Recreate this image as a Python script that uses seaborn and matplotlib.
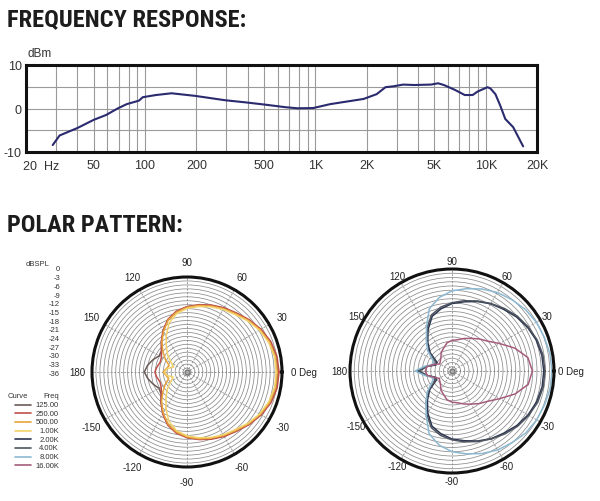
import numpy as np
import pandas as pd
import matplotlib
matplotlib.use("Agg")
import matplotlib.pyplot as plt
from matplotlib.lines import Line2D
from matplotlib.ticker import NullFormatter
from matplotlib import font_manager
import seaborn as sns

# ---------------- data ----------------
fr_freq = [28.7, 31.5, 40, 50, 59, 69, 78, 92, 97, 116, 143, 197, 295, 391, 504,
           667, 784, 970, 1220, 1530, 1920, 2290, 2580, 2870, 3280, 3800, 4780,
           5250, 5680, 6580, 7530, 8380, 8960, 10240, 10660, 11400, 12190, 13020,
           14500, 16580]
fr_db = [-8.4, -6.2, -4.5, -2.6, -1.5, 0.0, 1.0, 1.8, 2.6, 3.1, 3.5, 2.9, 1.9, 1.4, 0.9,
         0.3, 0.05, 0.1, 1.0, 1.6, 2.2, 3.3, 4.9, 5.1, 5.5, 5.4, 5.5,
         5.8, 5.4, 4.3, 3.1, 3.1, 3.9, 4.9, 4.6, 3.3, 0.6, -2.4,
         -4.3, -8.7]
fr_xtick_vals = [50, 100, 200, 500, 1000, 2000, 5000, 10000, 20000]
fr_xtick_labels = ["50", "100", "200", "500", "1K", "2K", "5K", "10K", "20K"]
fr_ytick_vals = [-10, -5, 0, 5, 10]
fr_ytick_labels = ["-10", "", "0", "", "10"]

polar_angles = list(range(0, 360, 10))
db_125 = [-1.6, -1.8, -2.5, -3.8, -5.4, -7.0, -8.1, -9.2, -10.3, -11.3, -12.8, -14.9,
          -18.0, -20.9, -23.4, -23.8, -22.3, -20.9, -19.8, -21.0, -22.4, -23.7, -23.2,
          -20.7, -17.8, -14.8, -12.7, -11.2, -10.2, -9.1, -8.0, -6.9, -5.3, -3.7, -2.4, -1.7]
db_250 = [-1.1, -1.4, -2.2, -3.6, -5.2, -6.8, -7.9, -9.0, -10.1, -11.2, -12.6, -14.8,
          -17.8, -20.9, -23.4, -24.8, -25.2, -24.5, -23.8, -24.4, -25.1, -24.7, -23.3,
          -20.7, -17.6, -14.6, -12.5, -11.1, -10.0, -8.9, -7.8, -6.7, -5.1, -3.5, -2.1, -1.3]
db_500 = [-1.8, -2.0, -2.7, -4.0, -5.6, -7.2, -8.3, -9.4, -10.4, -11.5, -13.0, -15.1,
          -18.2, -21.2, -24.1, -26.6, -28.8, -28.1, -27.0, -28.0, -28.6, -26.4, -24.0,
          -21.0, -18.0, -15.0, -12.9, -11.4, -10.3, -9.3, -8.2, -7.1, -5.5, -3.9, -2.6, -1.9]
db_1k = [-2.2, -2.3, -3.1, -4.3, -5.9, -7.6, -8.6, -9.7, -10.8, -11.9, -13.5, -16.2,
         -20.2, -23.8, -26.6, -29.2, -30.6, -28.4, -27.5, -28.3, -30.4, -29.0, -26.4,
         -23.6, -20.0, -16.0, -13.4, -11.8, -10.7, -9.6, -8.5, -7.5, -5.8, -4.2, -3.0, -2.3]
db_2k = [-3.6, -3.8, -4.3, -5.2, -6.3, -7.6, -8.6, -9.9, -11.2, -12.2, -13.7, -15.5,
         -19.1, -22.7, -25.9, -29.9, -29.9, -26.6, -23.8, -26.8, -29.7, -29.6, -25.7,
         -22.5, -18.9, -15.3, -13.5, -12.0, -11.0, -9.7, -8.4, -7.4, -6.1, -5.0, -4.2, -3.7]
db_4k = [-3.2, -3.4, -4.0, -4.9, -5.9, -7.2, -8.5, -9.7, -10.8, -11.9, -13.1, -14.9,
         -18.4, -22.0, -25.2, -29.2, -29.5, -27.0, -24.5, -27.1, -29.3, -29.0, -25.0,
         -21.8, -18.2, -14.7, -12.9, -11.7, -10.6, -9.5, -8.3, -7.0, -5.7, -4.7, -3.8, -3.3]
db_8k = [-0.7, -0.9, -1.3, -1.6, -2.2, -3.1, -4.0, -5.2, -6.5, -7.7, -9.7, -12.6,
         -18.0, -22.0, -24.8, -28.1, -29.2, -26.3, -23.0, -26.5, -29.0, -27.8, -24.6,
         -21.8, -17.8, -12.4, -9.5, -7.5, -6.3, -5.0, -3.8, -3.0, -2.0, -1.5, -1.2, -0.8]
db_16k = [-7.6, -8.8, -12.4, -16.6, -19.6, -21.2, -22.7, -23.8, -24.8, -25.2, -25.9, -27.4,
          -28.4, -29.9, -30.6, -31.0, -29.2, -27.0, -26.6, -27.1, -29.4, -30.8, -30.4,
          -29.7, -28.2, -27.2, -25.7, -25.0, -24.6, -23.6, -22.5, -21.0, -19.4, -16.5, -12.3, -8.7]

legend_freqs = ["125.00", "250.00", "500.00", "1.00K", "2.00K", "4.00K", "8.00K", "16.00K"]
legend_colors = ["#6b5b57", "#c0504a", "#e8a33c", "#f3d26a",
                 "#2b3550", "#4e5560", "#8db9d2", "#a55c7c"]
db_scale_labels = ["0", "-3", "-6", "-9", "-12", "-15", "-18", "-21", "-24",
                   "-27", "-30", "-33", "-36"]
theta_tick_degs = [0, 30, 60, 90, 120, 150, 180, -150, -120, -90, -60, -30]
theta_tick_labels = ["0 Deg", "30", "60", "90", "120", "150", "180",
                     "-150", "-120", "-90", "-60", "-30"]

# ---------------- style ----------------
sns.set_style("white")
names = {f.name for f in font_manager.fontManager.ttflist}
narrow = "Liberation Sans Narrow" if "Liberation Sans Narrow" in names else "Liberation Sans"
plt.rcParams["font.family"] = [narrow, "Liberation Sans", "DejaVu Sans"]
regular = ["Liberation Sans", "DejaVu Sans"]

# find a condensed bold face for the titles, if one is installed
cands = []
for f in font_manager.fontManager.ttflist:
    low = (f.fname + " " + f.name).lower()
    if ("condensed" in low or "narrow" in low) and f.weight in ("bold", 700, "heavy", 600, "semibold"):
        cands.append(f)
if cands:
    cands.sort(key=lambda f: (0 if "liberation" in f.fname.lower() else
                              1 if "roboto" in f.fname.lower() else 2))
    title_fp = font_manager.FontProperties(fname=cands[0].fname, size=17.6)
else:
    title_fp = font_manager.FontProperties(family=["Roboto", "Liberation Sans"],
                                           weight="bold", size=15)

W, H = 600, 502
fig = plt.figure(figsize=(W / 100, H / 100), dpi=100)


def fx(px):
    return px / W


def fy(py):
    return 1 - py / H


# titles
fig.text(fx(7), fy(26), "FREQUENCY RESPONSE:", fontproperties=title_fp,
         color="#1c1c1c", va="baseline", ha="left")
fig.text(fx(7), fy(232), "POLAR PATTERN:", fontproperties=title_fp,
         color="#1c1c1c", va="baseline", ha="left")

# ---------------- frequency response ----------------
ax = fig.add_axes([fx(26), fy(153), 511 / W, 87 / H])
ax.set_xscale("log")
df = pd.DataFrame({"freq": fr_freq, "db": fr_db})
sns.lineplot(data=df, x="freq", y="db", ax=ax, color="#2a2a6e", lw=1.5,
             estimator=None, sort=False)
ax.set_xlim(20, 20000)
ax.set_ylim(-10, 10)
minor_pos = [k * 10 ** d for d in range(1, 5) for k in range(1, 10)
             if 20 < k * 10 ** d < 20000 and k * 10 ** d not in fr_xtick_vals]
ax.set_xticks(fr_xtick_vals)
ax.set_xticklabels(fr_xtick_labels, family=regular, fontsize=9, color="#333333")
ax.set_xticks(minor_pos, minor=True)
ax.xaxis.set_minor_formatter(NullFormatter())
ax.set_yticks(fr_ytick_vals)
ax.set_yticklabels(fr_ytick_labels, family=regular, fontsize=9, color="#333333")
ax.grid(True, which="both", color="#9a9a9a", lw=0.8)
ax.tick_params(which="both", length=0)
ax.tick_params(axis="x", pad=5)
ax.tick_params(axis="y", pad=3)
ax.set_xlabel("")
ax.set_ylabel("")
for s in ax.spines.values():
    s.set_linewidth(2.2)
    s.set_color("#111111")
fig.text(fx(23), fy(167), "20  Hz", family=regular, fontsize=9, color="#333333",
         ha="left", va="center")
fig.text(fx(27), fy(54), "dBm", family=regular, fontsize=8.5, color="#333333",
         ha="left", va="center")

# ---------------- polar patterns ----------------
def polar(cx, cy, R, curves, zero_px, r180_px):
    pax = fig.add_axes([fx(cx - R), fy(cy + R), 2 * R / W, 2 * R / H],
                       projection="polar")
    th = np.deg2rad(polar_angles + [360])
    for vals, color in curves:
        r = vals + [vals[0]]
        sns.lineplot(x=th, y=r, ax=pax, color=color, lw=1.1, sort=False,
                     estimator=None)
    pax.set_ylim(-36, 0)
    pax.set_yticks(np.arange(-34.5, 0, 1.5))
    pax.set_yticklabels([])
    pax.set_xticks(np.deg2rad(np.arange(0, 360, 30)))
    pax.set_xticklabels([])
    pax.yaxis.grid(True, color="#8a8a8a", lw=0.55)
    pax.xaxis.grid(True, color="#9a9a9a", lw=0.7, ls=(0, (2, 1.5)))
    pax.spines["polar"].set_linewidth(2.2)
    pax.spines["polar"].set_color("#111111")
    pax.set_xlabel("")
    pax.set_ylabel("")
    pax.plot([0], [-36], "o", ms=3.5, color="#777777", mfc="#aaaaaa", zorder=5)
    for deg, lab in zip(theta_tick_degs, theta_tick_labels):
        a = np.deg2rad(deg)
        if deg == 0:
            off, ha = (zero_px * 0.72, 0), "left"
        elif deg == 180:
            off, ha = (-r180_px * 0.72, 0), "right"
        else:
            off, ha = (110 * 0.72 * np.cos(a), 110 * 0.72 * np.sin(a)), "center"
        pax.annotate(lab, xy=(0.5, 0.5), xycoords="axes fraction", xytext=off,
                     textcoords="offset points", ha=ha, va="center",
                     fontsize=7, color="#222222", annotation_clip=False)
    return pax


polar(187, 373, 95,
      [(db_125, legend_colors[0]), (db_250, legend_colors[1]),
       (db_500, legend_colors[2]), (db_1k, legend_colors[3])],
      zero_px=104, r180_px=102)
polar(452, 372, 102,
      [(db_2k, legend_colors[4]), (db_4k, legend_colors[5]),
       (db_8k, legend_colors[6]), (db_16k, legend_colors[7])],
      zero_px=106, r180_px=105)

# dBSPL scale
fig.text(fx(38), fy(264), "dBSPL", fontsize=5.5, color="#333333", ha="center", va="center")
for i, lab in enumerate(db_scale_labels):
    fig.text(fx(60), fy(270 + i * 8.67), lab, fontsize=5.5, color="#333333",
             ha="right", va="center")

# curve legend
fig.text(fx(8), fy(397), "Curve", fontsize=5.5, color="#333333", ha="left", va="center")
fig.text(fx(59), fy(397), "Freq", fontsize=5.5, color="#333333", ha="right", va="center")
for i, (lab, col) in enumerate(zip(legend_freqs, legend_colors)):
    y = fy(405.5 + i * 8.7)
    fig.add_artist(Line2D([fx(15), fx(31)], [y, y], color=col, lw=1.2,
                          transform=fig.transFigure))
    fig.text(fx(59), y, lab, fontsize=5.5, color="#333333", ha="right", va="center")

fig.savefig("out.png", dpi=100, facecolor="white")
